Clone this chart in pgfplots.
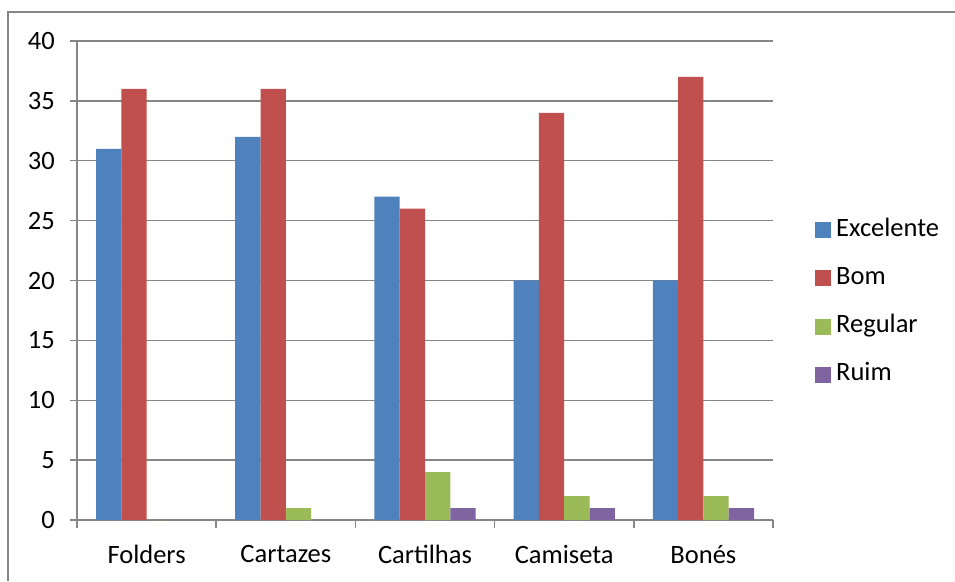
\documentclass[border=0pt]{standalone}
\usepackage{fontspec}
\setmainfont{Carlito}
\usepackage{pgfplots}
\pgfplotsset{compat=1.18}
\definecolor{cExc}{RGB}{79,129,189}
\definecolor{cBom}{RGB}{192,80,77}
\definecolor{cReg}{RGB}{155,187,89}
\definecolor{cRuim}{RGB}{128,100,162}
\definecolor{gridgray}{RGB}{134,134,134}
\pgfplotsset{sqlegend/.style={legend image code/.code={\fill[##1] (0pt,-8pt) rectangle (16pt,8pt);}}}
\begin{document}
\begin{tikzpicture}[x=1pt,y=1pt]
\useasboundingbox (0,0) rectangle (955,581);
\draw[gridgray, line width=1.5pt] (8,0) -- (8,569) -- (960,569);
\begin{axis}[
  at={(77pt,61pt)}, anchor=south west,
  width=696pt, height=479pt, scale only axis,
  ybar=0pt, bar width=25.3pt,
  xmin=-0.5, xmax=4.5, ymin=0, ymax=40,
  axis lines*=left,
  axis line style={gridgray, line width=1.5pt},
  xtick={0,...,4}, xticklabels={Folders,Cartazes,Cartilhas,Camiseta,Bonés},
  minor xtick={-0.5,0.5,...,4.5},
  ytick={0,5,...,40},
  tick align=outside,
  major tick length=7pt, minor tick length=8pt,
  tick style={gridgray, line width=1.5pt},
  major x tick style={draw=none},
  ymajorgrids, major grid style={gridgray, line width=1.5pt},
  /pgf/number format/assume math mode=true,
  ticklabel style={font=\fontsize{26.5}{31}\selectfont, inner sep=0pt},
  yticklabel style={anchor=east, xshift=-15pt},
  xticklabel style={anchor=north, yshift=-18pt},
  legend style={at={(1.0603,0.454)}, anchor=west, draw=none, fill=none, inner sep=0pt,
    nodes={inner xsep=3pt, inner ysep=0pt, text height=18pt, text depth=6pt, font=\fontsize{26.5}{31}\selectfont},
    row sep=24.3pt},
  legend cell align=left,
  /tikz/every odd column/.append style={column sep=2pt},
]
\addplot[fill=cExc, draw=none, sqlegend] coordinates {(0,31) (1,32) (2,27) (3,20) (4,20)};
\addplot[fill=cBom, draw=none, sqlegend] coordinates {(0,36) (1,36) (2,26) (3,34) (4,37)};
\addplot[fill=cReg, draw=none, sqlegend] coordinates {(0,0) (1,1) (2,4) (3,2) (4,2)};
\addplot[fill=cRuim, draw=none, sqlegend] coordinates {(0,0) (1,0) (2,1) (3,1) (4,1)};
\legend{Excelente,Bom,Regular,Ruim}
\end{axis}
\end{tikzpicture}
\end{document}
